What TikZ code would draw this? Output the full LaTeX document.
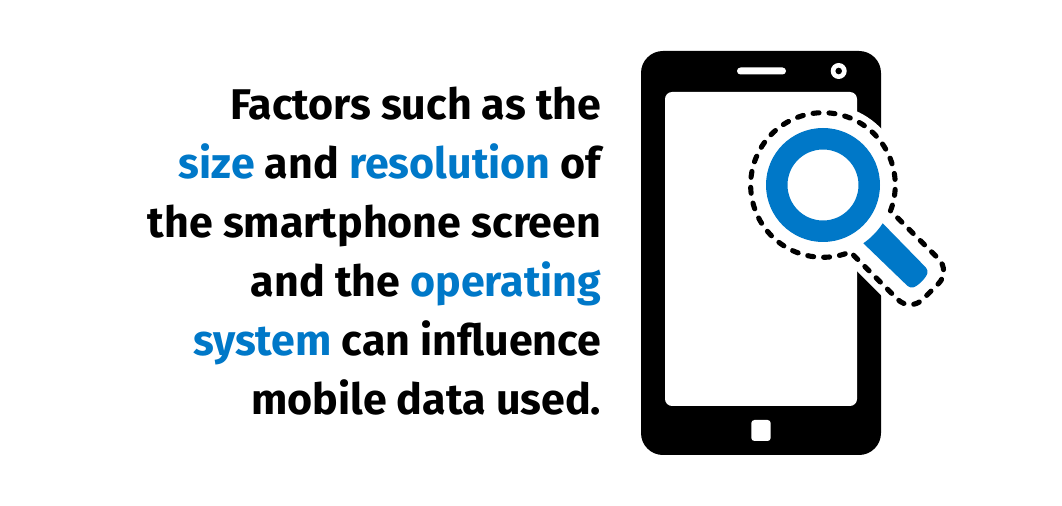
\documentclass[tikz,border=0pt]{standalone}
\usepackage{fontspec}
\setmainfont{Fira Sans}
\definecolor{lensblue}{HTML}{0078C8}
\tikzset{
    pane/.style={fill=white, rounded corners=#1},
    outline/.style={line width=2.9pt, dash pattern=on 3.4pt off 5.7pt, line cap=round}
}
\newcommand{\hl}[1]{\textcolor{lensblue}{#1}}
\begin{document}
\begin{tikzpicture}[x=0.02cm, y=-0.02cm]
    \useasboundingbox (0,0) rectangle (1062,506);
    \fill[white] (0,0) rectangle (1062,506);

    % Text
    \node[anchor=north east, inner sep=0pt, align=right, font=\fontsize{24.45}{33.5}\selectfont\bfseries] (caption) at (601.5,87)
        {Factors such as the\\
        \hl{size} and \hl{resolution} of\\
        the smartphone screen\\
        and the \hl{operating}\\
        \hl{system} can influence\\
        mobile data used.};

    % Phone
    \fill[black, rounded corners=12.5pt] (641,51) rectangle (881,455);
    \fill[pane=4pt] (665,92) rectangle (857,406);
    \fill[pane=2pt] (737,67.5) rectangle (786,74.5);
    \fill[pane=1.8pt] (751.3,420) rectangle (770.7,441);
    \fill[white] (838.7,71) circle (8);
    \fill[black] (838.7,71) circle (3.3);

    % Magnifier
    \coordinate (lens) at (823,185);
    \coordinate (a) at (890.5,210.8);
    \coordinate (c) at (910.2,311.9);
    \coordinate (d) at (950.9,271.2);
    \draw[white, fill=white, line width=10pt] (a) arc[start angle=20.9, end angle=-292.2, radius=72.3]
        [rounded corners=10pt] -- (c) -- (d) [sharp corners] -- cycle;
    \draw[outline] (a) arc[start angle=20.9, end angle=-292.2, radius=72.3]
        [rounded corners=10pt] -- (c) -- (d) [sharp corners] -- cycle;
    \fill[lensblue, even odd rule] (lens) circle (57) (lens) circle (35.5);
    \fill[lensblue] (882.7,223.3) arc[start angle=32.8, end angle=55.5, radius=70.7]
        [rounded corners=2pt] -- (910,288.3) .. controls (918,286) and (926,278) .. (928.3,270) [sharp corners] -- cycle;
\end{tikzpicture}
\end{document}
